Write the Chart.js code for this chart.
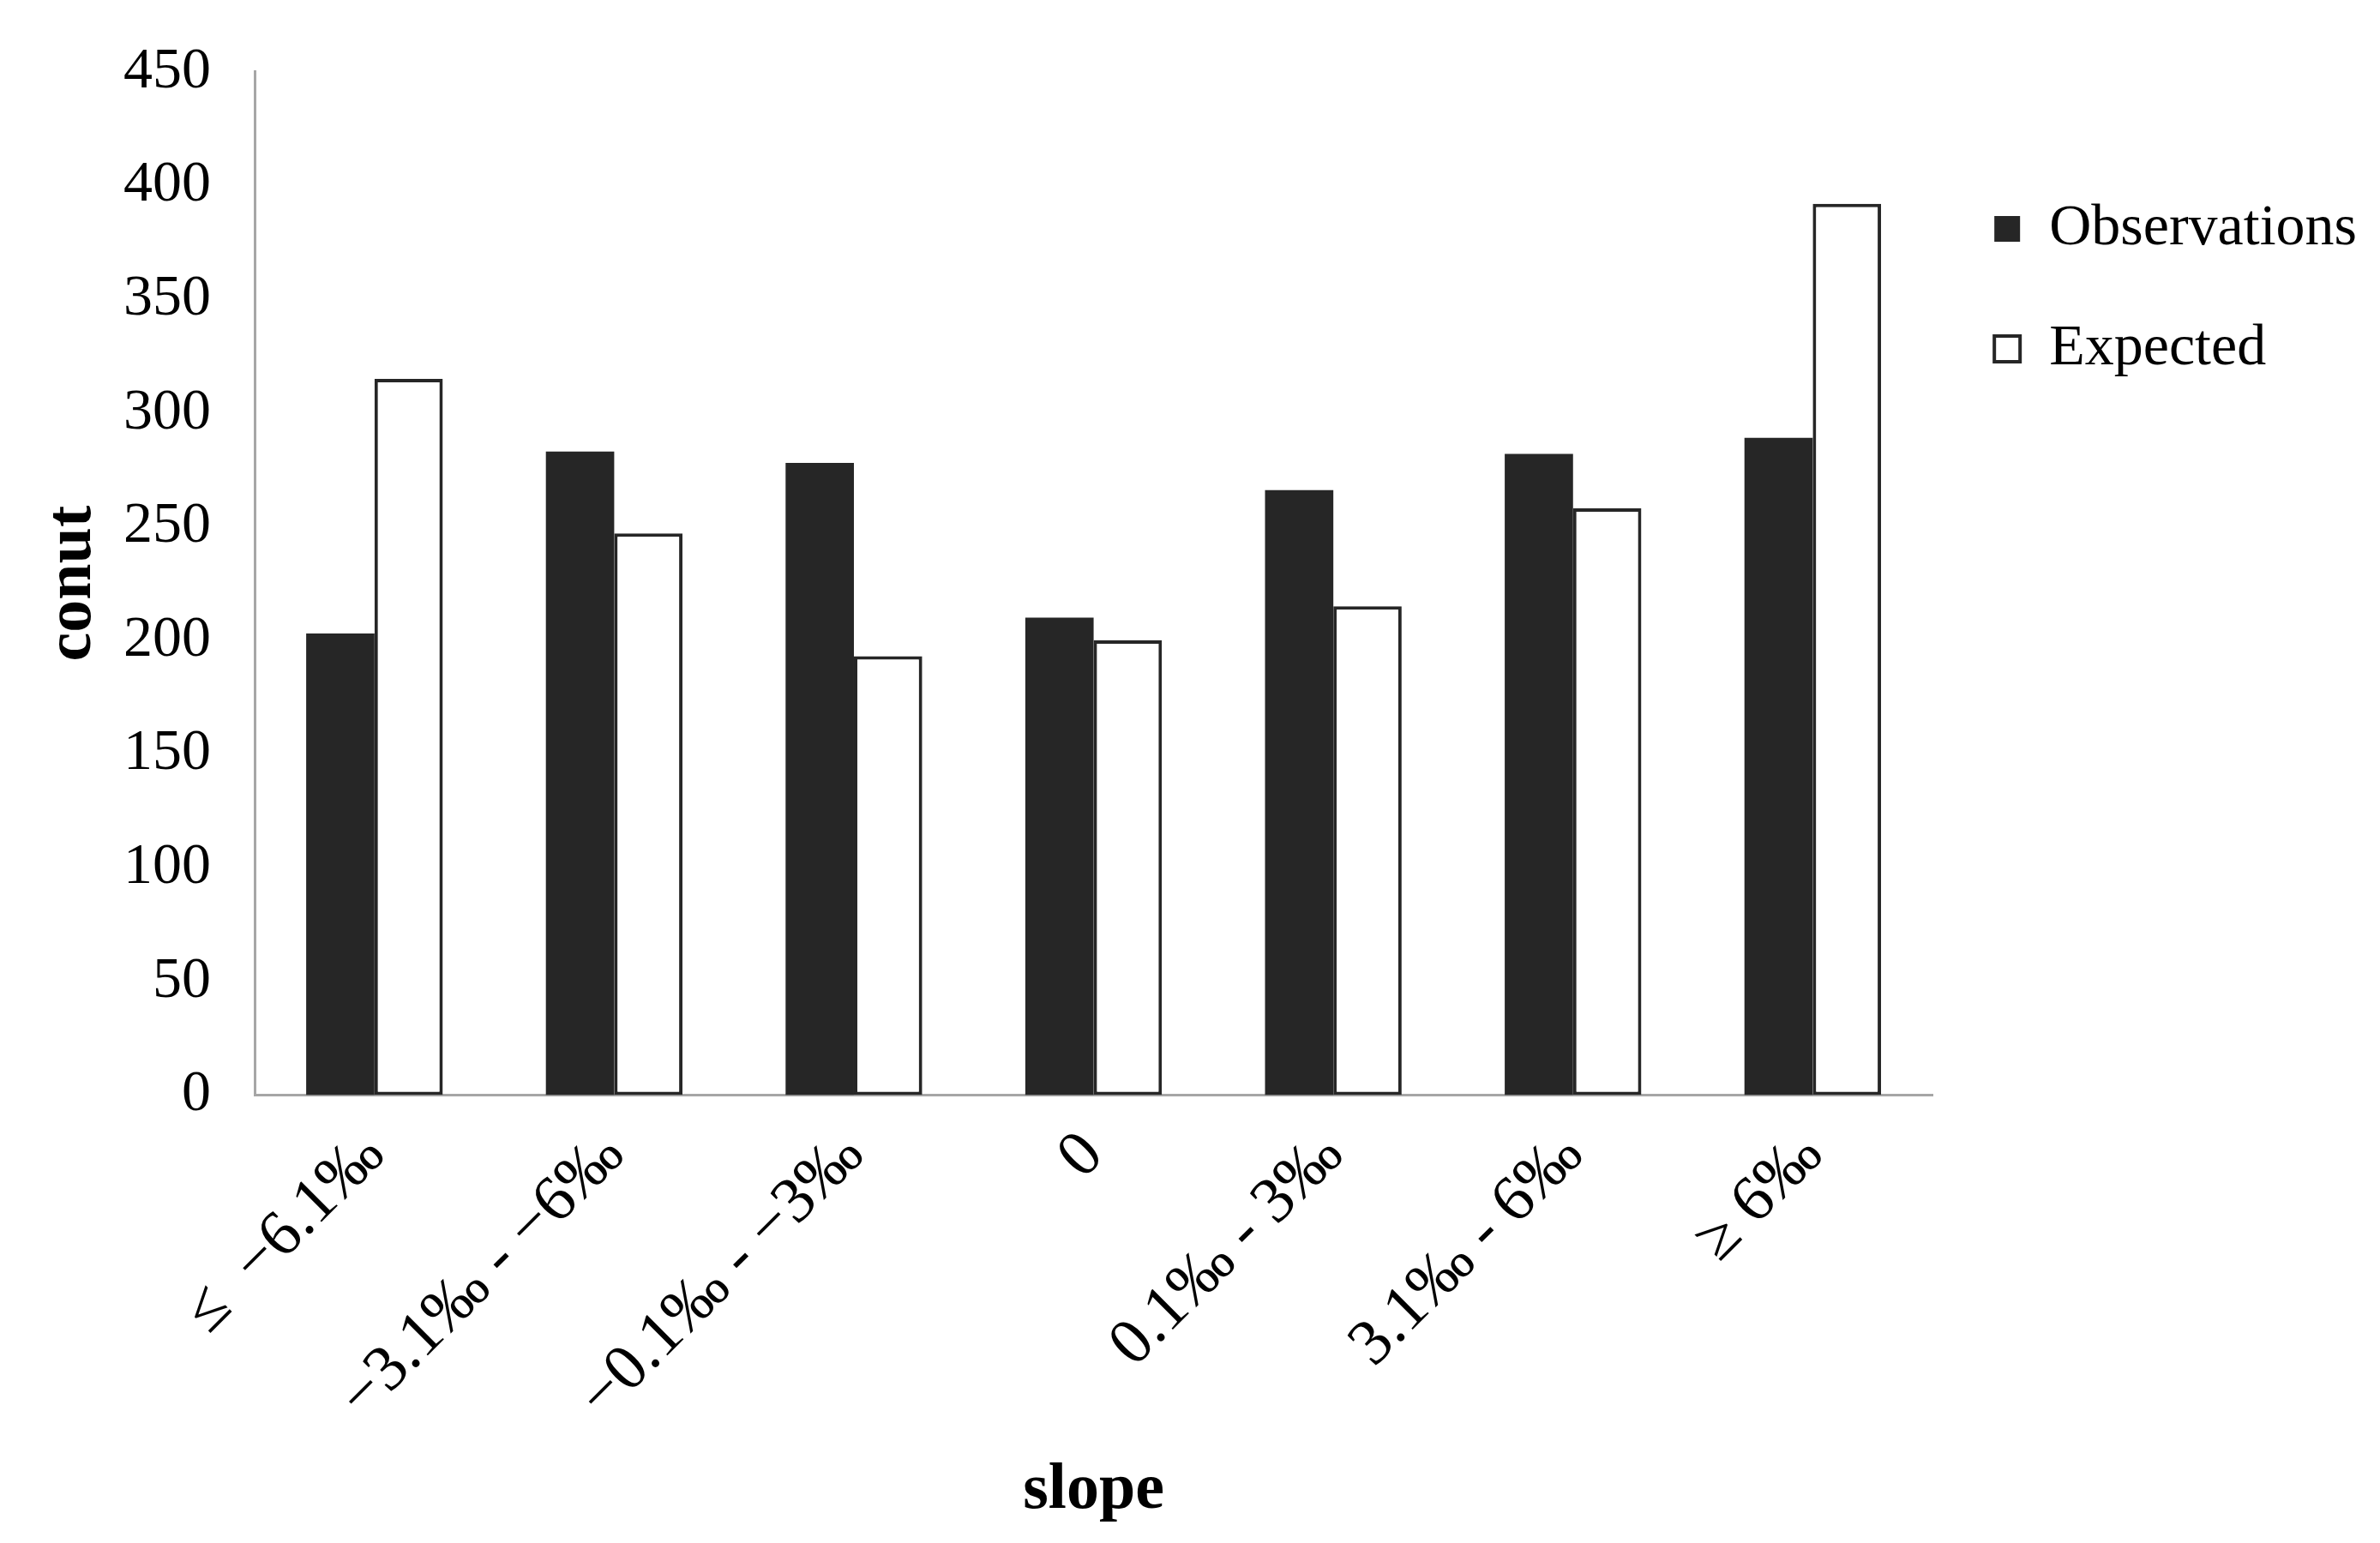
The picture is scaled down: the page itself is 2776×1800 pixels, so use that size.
<!DOCTYPE html>
<html>
<head>
<meta charset="utf-8">
<script src="https://cdn.jsdelivr.net/npm/chart.js@4/dist/chart.umd.min.js"></script>
<style>
body{margin:0;background:#fff}
</style>
</head>
<body>
<canvas id="myChart" width="2776" height="1800"></canvas>
<script>
let categories = ["\u2264  \u22126.1\u2030", "\u22123.1\u2030 - \u22126\u2030", "\u22120.1\u2030 - \u22123\u2030", "0", "0.1\u2030 - 3\u2030", "3.1\u2030 - 6\u2030", "\u2265 6\u2030"]
let observations = [203, 283, 278, 210, 266, 282, 289]
let expected = [315, 247, 193, 200, 215, 258, 392]
let yMin = 0
let yMax = 450
let yStep = 50

let serif = "'Liberation Serif', 'DejaVu Serif', serif"
let dark = '#262626'

let chart = new Chart(document.getElementById("myChart"), {
    type: 'bar',
    data: {
        labels: categories,
        datasets: [{
            label: 'Observations',
            data: observations,
            backgroundColor: dark,
            borderWidth: 0
        }, {
            label: 'Expected',
            data: expected,
            backgroundColor: '#ffffff',
            borderColor: dark,
            borderWidth: 4,
            borderSkipped: false
        }]
    },
    options: {
        responsive: false,
        animation: false,
        devicePixelRatio: 1,
        layout: {
            padding: {left: 40, right: 17, top: 36, bottom: 15}
        },
        datasets: {
            bar: {barPercentage: 1, categoryPercentage: 0.57}
        },
        scales: {
            x: {
                grid: {display: false},
                border: {display: true, color: '#a6a6a6', width: 3},
                afterFit: function(scale) {
                    // rotated labels may hang left of the axis, like the original
                    scale.paddingLeft = 0
                    scale.paddingRight = 0
                },
                ticks: {
                    color: '#000',
                    font: {family: serif, size: 76},
                    maxRotation: 45,
                    minRotation: 45,
                    padding: 18
                },
                title: {
                    display: true,
                    text: 'slope',
                    color: '#000',
                    font: {family: serif, size: 76, weight: 'bold'},
                    padding: {top: 1, bottom: 0}
                }
            },
            y: {
                min: yMin,
                max: yMax,
                grid: {display: false},
                border: {display: true, color: '#a6a6a6', width: 3},
                afterFit: function(scale) {
                    scale.width = 257
                },
                ticks: {
                    stepSize: yStep,
                    color: '#000',
                    font: {family: serif, size: 68},
                    padding: 43
                },
                title: {
                    display: true,
                    text: 'conut',
                    color: '#000',
                    font: {family: serif, size: 76, weight: 'bold'},
                    padding: {top: 0, bottom: 8}
                }
            }
        },
        plugins: {
            tooltip: {enabled: false},
            legend: {
                position: 'right',
                align: 'start',
                title: {display: true, text: ' ', padding: {top: 101, bottom: 0}, font: {size: 20}},
                labels: {
                    color: '#000',
                    font: {family: serif, size: 68},
                    boxWidth: 30,
                    boxHeight: 30,
                    padding: 72
                }
            }
        }
    }
});
</script>
</body>
</html>
